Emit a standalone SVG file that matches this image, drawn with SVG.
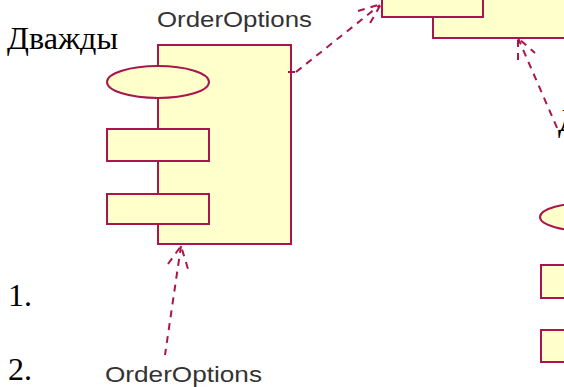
<svg xmlns="http://www.w3.org/2000/svg" width="564" height="387" viewBox="0 0 564 387">
<defs>
<style>
.c{fill:#ffffcc;stroke:#a8164c;stroke-width:2}
.dep{fill:none;stroke:#a8164c;stroke-width:2;stroke-dasharray:7,6}
.lbl{font-family:"Liberation Sans",Arial,sans-serif;font-size:22px;fill:#333}
.doc{font-family:"Liberation Serif","Times New Roman",serif;font-size:32px;fill:#000}
</style>
</defs>
<rect width="564" height="387" fill="#fff"/>
<g id="doc-text">
<text class="doc" x="7" y="49" textLength="111" lengthAdjust="spacingAndGlyphs">Дважды</text>
<text class="doc" x="8" y="306">1.</text>
<text class="doc" x="8" y="380">2.</text>
<text class="doc" x="558" y="131">Д</text>
</g>
<g id="main-component">
<rect class="c" x="158" y="45" width="133" height="199"/>
<ellipse class="c" cx="158" cy="82" rx="51" ry="16"/>
<rect class="c" x="107" y="129" width="102" height="32"/>
<rect class="c" x="107" y="194" width="102" height="30"/>
<text class="lbl" x="157" y="27" textLength="155" lengthAdjust="spacingAndGlyphs">OrderOptions</text>
</g>
<g id="top-right-component">
<rect class="c" x="433" y="-20" width="150" height="58"/>
<rect class="c" x="382" y="-20" width="101" height="37"/>
</g>
<g id="bottom-right-component">
<rect class="c" x="591" y="190" width="100" height="200"/>
<ellipse class="c" cx="591" cy="217" rx="51" ry="14.5"/>
<rect class="c" x="541" y="265" width="102" height="33"/>
<rect class="c" x="541" y="330" width="102" height="32"/>
</g>
<g id="bottom-label">
<text class="lbl" x="105" y="382" textLength="157" lengthAdjust="spacingAndGlyphs">OrderOptions</text>
</g>
<g id="connectors">
<path class="dep" d="M288,72 H296 M296,72 L380,5"/>
<path class="dep" d="M358,11 L381,4 L369,25"/>
<path class="dep" d="M518,38 L558,130"/>
<path class="dep" d="M518,60 L518,38 L535,53" stroke-dasharray="none"/>
<path class="dep" d="M181,246 L165,355"/>
<path class="dep" d="M168,264 L181,246 L188,269" stroke-dasharray="4,3"/>
</g>
</svg>
